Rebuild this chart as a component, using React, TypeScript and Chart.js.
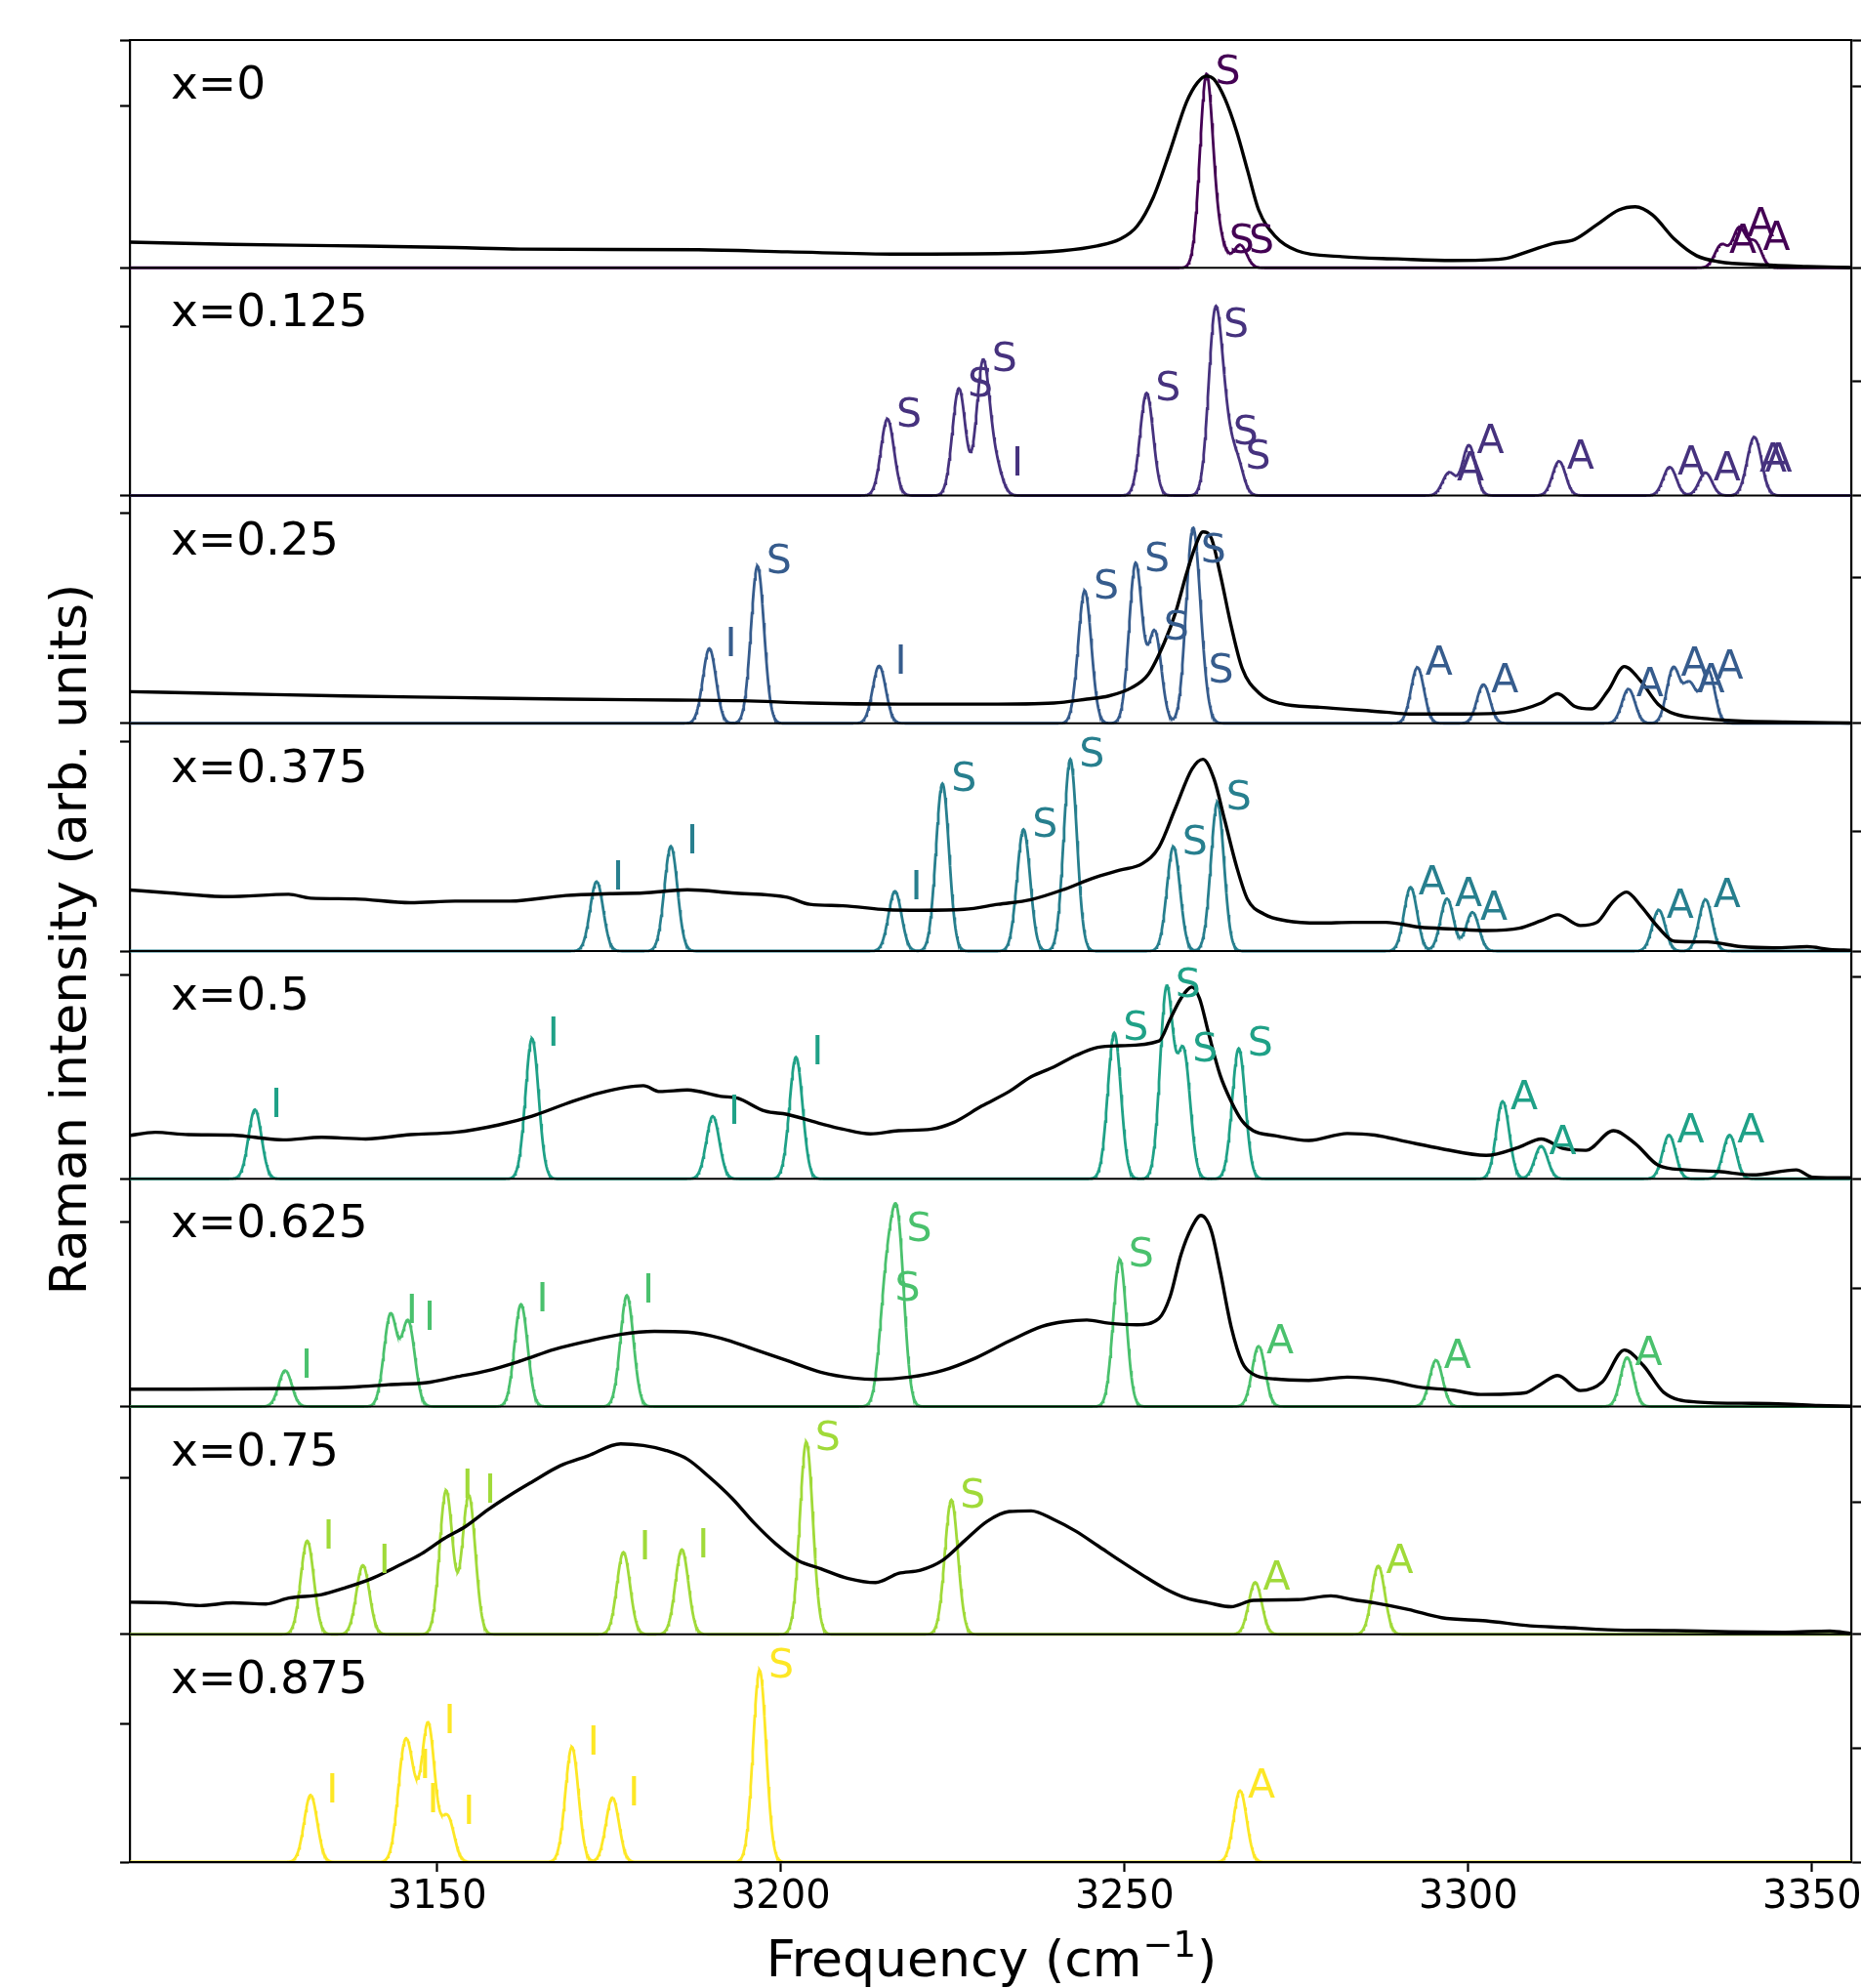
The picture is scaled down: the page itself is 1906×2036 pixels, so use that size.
import React, { useEffect, useRef } from 'react';
import { Chart, registerables } from 'chart.js';

Chart.register(...registerables);

type Stick = [number, number, string];
type Pt = [number, number];

// ---------------- data ----------------
const COMPOSITIONS = ['0', '0.125', '0.25', '0.375', '0.5', '0.625', '0.75', '0.875'];
const X_TICKS = [3150, 3200, 3250, 3300, 3350];
const X_MIN = 3105.3;
const X_MAX = 3355.7;
const BROADENING_SIGMA = 0.95; // cm-1, Gaussian broadening of computed modes

// computed modes: [frequency cm-1, intensity (fraction of panel), symmetry label]
const THEORY_X0: Stick[] = [
  [3261.9, 0.84, 'S'], [3263.9, 0.10, 'S'], [3266.8, 0.10, 'S'],
  [3336.8, 0.10, 'A'], [3339.4, 0.17, 'A'], [3341.7, 0.11, 'A'],
];
const THEORY_X125: Stick[] = [
  [3215.5, 0.336, 'S'], [3225.9, 0.47, 'S'], [3229.4, 0.58, 'S'], [3231.3, 0.12, 'I'],
  [3253.2, 0.45, 'S'], [3263.1, 0.73, 'S'], [3264.5, 0.26, 'S'], [3266.3, 0.15, 'S'],
  [3297.2, 0.10, 'A'], [3300.1, 0.22, 'A'], [3313.2, 0.15, 'A'], [3329.3, 0.125, 'A'],
  [3334.5, 0.10, 'A'], [3341.2, 0.14, 'A'], [3342.0, 0.14, 'A'],
];
const THEORY_X25: Stick[] = [
  [3189.6, 0.328, 'I'], [3196.6, 0.69, 'S'], [3214.3, 0.252, 'I'], [3244.2, 0.582, 'S'],
  [3251.6, 0.70, 'S'], [3254.4, 0.40, 'S'], [3259.8, 0.74, 'S'], [3260.9, 0.21, 'S'],
  [3292.6, 0.245, 'A'], [3302.2, 0.17, 'A'], [3323.3, 0.15, 'A'], [3329.8, 0.24, 'A'],
  [3332.2, 0.17, 'A'], [3334.9, 0.23, 'A'],
];
const THEORY_X375: Stick[] = [
  [3173.2, 0.305, 'I'], [3184.0, 0.46, 'I'], [3216.6, 0.262, 'I'], [3223.5, 0.735, 'S'],
  [3235.3, 0.534, 'S'], [3242.1, 0.842, 'S'], [3257.1, 0.458, 'S'], [3263.5, 0.653, 'S'],
  [3291.6, 0.28, 'A'], [3296.9, 0.23, 'A'], [3300.6, 0.17, 'A'], [3327.7, 0.18, 'A'],
  [3334.5, 0.226, 'A'],
];
const THEORY_X5: Stick[] = [
  [3123.5, 0.304, 'I'], [3163.8, 0.616, 'I'], [3190.1, 0.275, 'I'], [3202.2, 0.534, 'I'],
  [3248.5, 0.641, 'S'], [3256.1, 0.83, 'S'], [3258.6, 0.55, 'S'], [3266.6, 0.572, 'S'],
  [3305.0, 0.34, 'A'], [3310.6, 0.143, 'A'], [3329.2, 0.192, 'A'], [3338.0, 0.192, 'A'],
];
const THEORY_X625: Stick[] = [
  [3127.9, 0.158, 'I'], [3143.2, 0.40, 'I'], [3145.8, 0.37, 'I'], [3162.2, 0.449, 'I'],
  [3177.6, 0.488, 'I'], [3215.3, 0.50, 'S'], [3217.0, 0.76, 'S'], [3249.3, 0.646, 'S'],
  [3269.5, 0.265, 'A'], [3295.3, 0.203, 'A'], [3323.1, 0.215, 'A'],
];
const THEORY_X75: Stick[] = [
  [3131.1, 0.41, 'I'], [3139.2, 0.303, 'I'], [3151.3, 0.63, 'I'], [3154.6, 0.61, 'I'],
  [3177.1, 0.36, 'I'], [3185.6, 0.372, 'I'], [3203.7, 0.844, 'S'], [3224.8, 0.59, 'S'],
  [3269.0, 0.228, 'A'], [3286.9, 0.30, 'A'],
];
const THEORY_X875: Stick[] = [
  [3131.6, 0.294, 'I'], [3145.1, 0.40, 'I'], [3146.3, 0.25, 'I'], [3148.7, 0.60, 'I'],
  [3151.5, 0.20, 'I'], [3169.6, 0.505, 'I'], [3175.5, 0.283, 'I'], [3196.9, 0.842, 'S'],
  [3266.8, 0.314, 'A'],
];

// measured spectra: [frequency cm-1, intensity (fraction of panel)]
const EXP_X0: Pt[] = [
  [3105, 0.113], [3120, 0.103], [3135, 0.097], [3152.6, 0.089], [3162, 0.082], [3188, 0.079],
  [3201, 0.070], [3217, 0.060], [3233, 0.063], [3241, 0.075], [3246, 0.096], [3249.3, 0.125],
  [3251.8, 0.182], [3254.2, 0.311], [3256.6, 0.512], [3259, 0.727], [3260.6, 0.813], [3261.9, 0.842],
  [3263, 0.828], [3264.6, 0.742], [3266.3, 0.598], [3267.9, 0.426], [3269.5, 0.254], [3271.9, 0.139],
  [3275.1, 0.075], [3281.6, 0.049], [3289.7, 0.039], [3297.7, 0.032], [3305, 0.039], [3309, 0.075],
  [3312.2, 0.106], [3315.5, 0.125], [3318.7, 0.189], [3321.9, 0.254], [3324.3, 0.268], [3326.8, 0.232],
  [3330, 0.125], [3333.2, 0.053], [3336.4, 0.027], [3342.9, 0.013], [3349.3, 0.006], [3355.7, 0.001],
];
const EXP_X25: Pt[] = [
  [3105, 0.139], [3120.3, 0.130], [3136.4, 0.120], [3152.6, 0.113], [3168.7, 0.106], [3184.8, 0.102],
  [3194.5, 0.099], [3204.2, 0.089], [3217.1, 0.084], [3230, 0.084], [3239.7, 0.089], [3244.5, 0.106],
  [3247.7, 0.120], [3251, 0.156], [3253.4, 0.213], [3255.8, 0.356], [3257.4, 0.485], [3259, 0.657],
  [3260.3, 0.778], [3261.4, 0.840], [3262.6, 0.814], [3263.9, 0.657], [3265.5, 0.428], [3267.1, 0.242],
  [3269.5, 0.134], [3272.7, 0.087], [3278.4, 0.070], [3288, 0.049], [3291.3, 0.041], [3299.3, 0.041],
  [3305.8, 0.049], [3310.6, 0.089], [3313, 0.130], [3315.5, 0.074], [3317.9, 0.063], [3320.3, 0.142],
  [3322.7, 0.249], [3325.1, 0.185], [3327.6, 0.084], [3330, 0.041], [3334.8, 0.020], [3339.7, 0.010],
  [3346.1, 0.006], [3355.7, 0.001],
];
const EXP_X375: Pt[] = [
  [3105, 0.269], [3110.6, 0.256], [3119.5, 0.239], [3128.4, 0.249], [3131.6, 0.232], [3138, 0.229],
  [3146.1, 0.212], [3152.6, 0.219], [3160.6, 0.219], [3168.7, 0.244], [3175.1, 0.252], [3180, 0.255],
  [3186.4, 0.269], [3192.9, 0.255], [3200.9, 0.236], [3204.2, 0.205], [3209, 0.199], [3215.5, 0.181],
  [3220.3, 0.179], [3226.7, 0.183], [3231.6, 0.205], [3236.4, 0.226], [3241.3, 0.272], [3245.3, 0.319],
  [3249.3, 0.355], [3252.6, 0.384], [3255, 0.456], [3257.4, 0.628], [3259.8, 0.799], [3261.4, 0.842],
  [3263, 0.756], [3264.6, 0.570], [3266.3, 0.370], [3267.9, 0.226], [3270.3, 0.162], [3273.5, 0.133],
  [3278.4, 0.123], [3283.2, 0.126], [3288, 0.126], [3292.9, 0.105], [3297.7, 0.097], [3302.6, 0.090],
  [3307.4, 0.100], [3310.6, 0.133], [3313, 0.159], [3316.3, 0.112], [3318.7, 0.126], [3321.1, 0.219],
  [3323, 0.259], [3325.1, 0.198], [3327.6, 0.105], [3330, 0.043], [3334.8, 0.040], [3339.7, 0.019],
  [3344.5, 0.014], [3349.3, 0.019], [3352.6, 0.007], [3355.7, 0.003],
];
const EXP_X5: Pt[] = [
  [3105, 0.189], [3109, 0.204], [3113.8, 0.194], [3120.3, 0.192], [3123.5, 0.182], [3127.6, 0.171],
  [3133.2, 0.182], [3139.6, 0.175], [3146.1, 0.194], [3152.6, 0.204], [3159, 0.237], [3163.8, 0.275],
  [3168.7, 0.329], [3173.5, 0.376], [3180, 0.409], [3182.4, 0.383], [3186.4, 0.390], [3191.3, 0.362],
  [3193.7, 0.354], [3197.7, 0.297], [3200.9, 0.283], [3205.8, 0.242], [3209, 0.218], [3213, 0.197],
  [3217.1, 0.211], [3221.9, 0.218], [3225.1, 0.247], [3229.2, 0.319], [3233.2, 0.383], [3236.4, 0.448],
  [3239.7, 0.491], [3242.9, 0.541], [3246.1, 0.577], [3249.3, 0.584], [3255, 0.605], [3256.6, 0.699],
  [3258.2, 0.792], [3259.8, 0.842], [3260.9, 0.792], [3262.2, 0.641], [3263.9, 0.455], [3265.5, 0.340],
  [3267.1, 0.254], [3268.7, 0.211], [3271.9, 0.189], [3276.8, 0.168], [3282.4, 0.199], [3286.4, 0.192],
  [3291.3, 0.161], [3296.1, 0.132], [3302.6, 0.103], [3307.4, 0.139], [3310.6, 0.175], [3313.9, 0.132],
  [3317.1, 0.125], [3321.1, 0.211], [3324.3, 0.154], [3327.6, 0.060], [3331.6, 0.039], [3336.4, 0.032],
  [3341.3, 0.017], [3347.7, 0.039], [3350.1, 0.007], [3355.7, 0.004],
];
const EXP_X625: Pt[] = [
  [3105, 0.076], [3113.8, 0.076], [3128.4, 0.079], [3138, 0.086], [3142.9, 0.096], [3148.5, 0.105],
  [3152.6, 0.129], [3157.4, 0.158], [3162.2, 0.201], [3167.1, 0.251], [3171.9, 0.287], [3176.7, 0.317],
  [3181.6, 0.330], [3186.4, 0.327], [3191.3, 0.300], [3196.1, 0.251], [3201, 0.201], [3205.8, 0.151],
  [3210.6, 0.125], [3213.8, 0.119], [3218.7, 0.129], [3223.5, 0.158], [3228.4, 0.214], [3233.2, 0.287],
  [3238, 0.352], [3241.3, 0.373], [3244.5, 0.380], [3247.7, 0.366], [3251.8, 0.359], [3255, 0.387],
  [3256.6, 0.481], [3258.2, 0.667], [3259.8, 0.789], [3261.1, 0.839], [3262.6, 0.773], [3263.9, 0.595],
  [3265.5, 0.350], [3267.1, 0.194], [3268.7, 0.142], [3271.9, 0.121], [3276.8, 0.115], [3282.4, 0.129],
  [3288, 0.115], [3292.9, 0.085], [3297.7, 0.072], [3301.8, 0.053], [3308.2, 0.060], [3310.6, 0.099],
  [3313, 0.136], [3316.3, 0.070], [3319.5, 0.108], [3322.7, 0.248], [3325.5, 0.179], [3328.4, 0.063],
  [3333.2, 0.020], [3341.3, 0.014], [3346.1, 0.011], [3351, 0.004], [3355.7, 0.001],
];
const EXP_X75: Pt[] = [
  [3105, 0.141], [3110.6, 0.138], [3115.5, 0.126], [3120.3, 0.138], [3125.1, 0.133], [3128.4, 0.159],
  [3133.2, 0.174], [3136.4, 0.202], [3140.5, 0.245], [3144.5, 0.303], [3147.7, 0.353], [3151, 0.420],
  [3154.2, 0.475], [3157.4, 0.547], [3160.6, 0.611], [3163.8, 0.669], [3167.9, 0.740], [3171.9, 0.783],
  [3176.7, 0.836], [3180, 0.829], [3183.2, 0.808], [3186.4, 0.769], [3189.6, 0.690], [3192.9, 0.597],
  [3196.1, 0.489], [3199.3, 0.396], [3202.5, 0.324], [3205.8, 0.288], [3209.8, 0.245], [3213.8, 0.227],
  [3217.1, 0.267], [3220.3, 0.281], [3223.5, 0.324], [3226.7, 0.410], [3230, 0.496], [3233.2, 0.539],
  [3236.4, 0.542], [3239.7, 0.504], [3242.9, 0.453], [3246.1, 0.389], [3249.3, 0.324], [3252.6, 0.260],
  [3255.8, 0.202], [3259, 0.159], [3262.2, 0.138], [3265.5, 0.121], [3268.7, 0.149], [3275.1, 0.152],
  [3280, 0.169], [3283.2, 0.152], [3286.4, 0.138], [3291.3, 0.109], [3296.1, 0.073], [3302.6, 0.059],
  [3309, 0.037], [3313.9, 0.030], [3320.3, 0.020], [3330, 0.016], [3338, 0.011], [3346.1, 0.009],
  [3352.6, 0.014], [3355.7, 0.003],
];

const THEORY: Stick[][] = [THEORY_X0, THEORY_X125, THEORY_X25, THEORY_X375, THEORY_X5, THEORY_X625, THEORY_X75, THEORY_X875];
const EXPERIMENT: (Pt[] | null)[] = [EXP_X0, null, EXP_X25, EXP_X375, EXP_X5, EXP_X625, EXP_X75, null];

// unlabeled tick marks of each panel (fraction of panel height)
const LEFT_TICKS = [0.709, 0.743, 0.924, 0.918, 0.895, 0.810, 0.686, 0.608];
const RIGHT_TICKS = [0.797, 0.500, 0.641, 0.525, 0.885, 0.519, 0.579, 0.499];

// ---------------- styles ----------------
const COLORS = ['#440154', '#46327e', '#365c8d', '#277f8e', '#1fa187', '#4ac16d', '#a0da39', '#fde725'];
const FONT = '"DejaVu Sans", "Liberation Sans", sans-serif';
const N_PANELS = COMPOSITIONS.length;
const FRAME_W = 2.2;

function broaden(sticks: Stick[]) {
  const pts: { x: number; y: number }[] = [];
  const step = 0.1;
  const n = Math.round((X_MAX - X_MIN) / step);
  for (let k = 0; k <= n; k++) {
    const x = X_MIN + k * step;
    let y = 0;
    for (const [f, h] of sticks) y += h * Math.exp(-((x - f) ** 2) / (2 * BROADENING_SIGMA ** 2));
    pts.push({ x, y });
  }
  return pts;
}

const panelPlugin = {
  id: 'panelDecor',
  afterDatasetsDraw(chart: any) {
    const { ctx, chartArea } = chart;
    const xs = chart.scales.x;
    const ys = chart.scales.y;
    ctx.save();
    // panel frames
    ctx.strokeStyle = '#000';
    ctx.lineWidth = FRAME_W;
    for (let k = 0; k <= N_PANELS; k++) {
      const py = ys.getPixelForValue(k);
      ctx.beginPath();
      ctx.moveTo(chartArea.left, py);
      ctx.lineTo(chartArea.right, py);
      ctx.stroke();
    }
    // mode labels
    ctx.font = `41px ${FONT}`;
    ctx.textAlign = 'center';
    ctx.textBaseline = 'middle';
    THEORY.forEach((sticks, i) => {
      const base = N_PANELS - 1 - i;
      ctx.fillStyle = COLORS[i];
      sticks.forEach(([f, h, lab]) => {
        if (!lab) return;
        ctx.fillText(lab, xs.getPixelForValue(f) + 22, ys.getPixelForValue(base + h) - 3);
      });
    });
    // composition labels
    ctx.font = `47px ${FONT}`;
    ctx.textAlign = 'left';
    ctx.textBaseline = 'alphabetic';
    ctx.fillStyle = '#000';
    COMPOSITIONS.forEach((c, i) => {
      const top = ys.getPixelForValue(N_PANELS - i);
      ctx.fillText('x=' + c, chartArea.left + 42, top + 60);
    });
    ctx.restore();
  },
  afterDraw(chart: any) {
    const { ctx, chartArea } = chart;
    ctx.save();
    ctx.fillStyle = '#000';
    ctx.textBaseline = 'alphabetic';
    ctx.textAlign = 'left';
    // x axis title with superscript
    const mainFont = `52px ${FONT}`;
    const supFont = `37px ${FONT}`;
    const p1 = 'Frequency (cm';
    const p2 = '\u22121';
    const p3 = ')';
    ctx.font = mainFont;
    const w1 = ctx.measureText(p1).width;
    const w3 = ctx.measureText(p3).width;
    ctx.font = supFont;
    const w2 = ctx.measureText(p2).width;
    const baseY = chartArea.bottom + 117;
    let x = (chartArea.left + chartArea.right) / 2 - (w1 + w2 + w3) / 2;
    ctx.font = mainFont;
    ctx.fillText(p1, x, baseY);
    x += w1;
    ctx.font = supFont;
    ctx.fillText(p2, x + 1, baseY - 20);
    x += w2 + 2;
    ctx.font = mainFont;
    ctx.fillText(p3, x, baseY);
    // y axis title
    ctx.textAlign = 'center';
    ctx.translate(chartArea.left - 45, (chartArea.top + chartArea.bottom) / 2 - 12);
    ctx.rotate(-Math.PI / 2);
    ctx.fillText('Raman intensity (arb. units)', 0, 0);
    ctx.restore();
  },
};

export default function App() {
  const ref = useRef<HTMLCanvasElement | null>(null);
  useEffect(() => {
    if (!ref.current) return;
    const datasets: any[] = [];
    EXPERIMENT.forEach((exp, i) => {
      if (!exp) return;
      const base = N_PANELS - 1 - i;
      datasets.push({
        label: 'exp x=' + COMPOSITIONS[i],
        data: exp.map(([f, v]) => ({ x: f, y: base + v })),
        borderColor: '#000',
        borderWidth: 3.4,
        pointRadius: 0,
        fill: false,
        cubicInterpolationMode: 'monotone',
        order: 0,
        yAxisID: 'y',
      });
    });
    THEORY.forEach((sticks, i) => {
      const base = N_PANELS - 1 - i;
      datasets.push({
        label: 'theory x=' + COMPOSITIONS[i],
        data: broaden(sticks).map((p) => ({ x: p.x, y: base + p.y })),
        borderColor: COLORS[i],
        borderWidth: 2.8,
        pointRadius: 0,
        fill: false,
        tension: 0,
        order: 1,
        yAxisID: 'y',
      });
    });
    const intTicks = Array.from({ length: N_PANELS + 1 }, (_, k) => k);
    const leftVals = intTicks.concat(LEFT_TICKS.map((t, i) => N_PANELS - 1 - i + t));
    const rightVals = intTicks.concat(RIGHT_TICKS.map((t, i) => N_PANELS - 1 - i + t));
    const gridCommon = {
      drawOnChartArea: false,
      drawTicks: true,
      tickLength: 10,
      tickWidth: 2.2,
      tickColor: '#000',
    };
    const chart = new Chart(ref.current, {
      type: 'line',
      data: { datasets },
      plugins: [panelPlugin],
      options: {
        responsive: false,
        animation: false,
        devicePixelRatio: 1,
        layout: { padding: { left: 123, right: 0, top: 41, bottom: 65 } },
        plugins: { legend: { display: false }, tooltip: { enabled: false } },
        scales: {
          x: {
            type: 'linear',
            min: X_MIN,
            max: X_MAX,
            afterBuildTicks: (axis: any) => {
              axis.ticks = X_TICKS.map((v) => ({ value: v }));
            },
            afterFit: (axis: any) => {
              axis.paddingLeft = 0;
              axis.paddingRight = 0;
            },
            ticks: {
              callback: (v: any) => String(v),
              font: { family: FONT, size: 40 },
              color: '#000',
              padding: 3,
              maxRotation: 0,
              autoSkip: false,
            },
            grid: gridCommon,
            border: { display: true, color: '#000', width: FRAME_W },
          },
          y: {
            type: 'linear',
            position: 'left',
            min: 0,
            max: N_PANELS,
            afterBuildTicks: (axis: any) => {
              axis.ticks = leftVals.map((v) => ({ value: v }));
            },
            ticks: { display: false },
            grid: gridCommon,
            border: { display: true, color: '#000', width: FRAME_W },
          },
          y2: {
            type: 'linear',
            position: 'right',
            min: 0,
            max: N_PANELS,
            afterBuildTicks: (axis: any) => {
              axis.ticks = rightVals.map((v) => ({ value: v }));
            },
            ticks: { display: false },
            grid: gridCommon,
            border: { display: true, color: '#000', width: FRAME_W },
          },
        },
      } as any,
    });
    return () => chart.destroy();
  }, []);
  return (
    <div style={{ position: 'absolute', left: 0, top: 0, width: 1906, height: 2036, background: '#fff' }}>
      <canvas ref={ref} width={1906} height={2036} style={{ display: 'block' }} />
    </div>
  );
}
